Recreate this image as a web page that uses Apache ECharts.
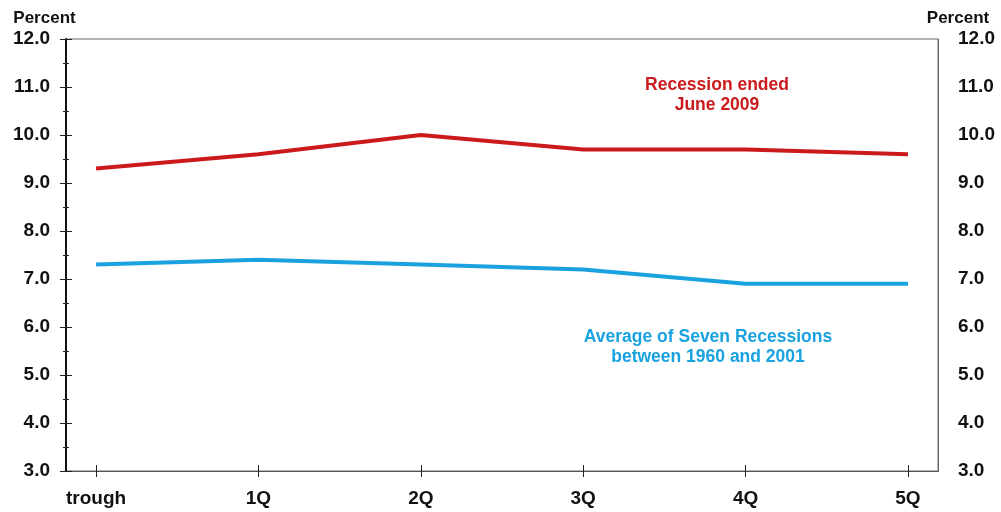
<!DOCTYPE html>
<html>
<head>
<meta charset="utf-8">
<script src="https://cdn.jsdelivr.net/npm/echarts@6/dist/echarts.min.js"></script>
<style>
  html, body { margin: 0; padding: 0; background: #fff; }
  #chart { width: 1001px; height: 512px; }
</style>
</head>
<body>
<div id="chart"></div>
<script>
// Unemployment rate after recession troughs
const categories = ['trough', '1Q', '2Q', '3Q', '4Q', '5Q'];
const recession2009 = [9.3, 9.6, 10.0, 9.7, 9.7, 9.6];
const averageSeven = [7.3, 7.4, 7.3, 7.2, 6.9, 6.9];
const yTicks = [3.0, 4.0, 5.0, 6.0, 7.0, 8.0, 9.0, 10.0, 11.0, 12.0];

const RED = '#cb1a1c';
const BLUE = '#19a2df';
const FONT = 'Liberation Sans, Arial, sans-serif';
const pad = 0.185; // half-gap beyond the first and last quarter
const xPos = categories.map((_, i) => i);

const toPairs = arr => arr.map((v, i) => [i, v]);

const xBase = {
  type: 'value',
  min: -pad,
  max: categories.length - 1 + pad,
  position: 'bottom',
  splitLine: { show: false },
  axisLine: { show: true, onZero: false, lineStyle: { color: '#555', width: 1 } }
};

const yBase = {
  type: 'value',
  min: yTicks[0],
  max: yTicks[yTicks.length - 1],
  interval: 1,
  splitLine: { show: false }
};

const labelStyle = { fontFamily: FONT, fontWeight: 'bold', fontSize: 19, color: '#111' };
const nameStyle = { fontFamily: FONT, fontWeight: 'bold', fontSize: 17, color: '#111', align: 'center' };

const chart = echarts.init(document.getElementById('chart'), null, { renderer: 'canvas' });
chart.setOption({
  animation: false,
  backgroundColor: '#fff',
  grid: {
    left: 66, right: 63, top: 39, bottom: 41,
    show: true, borderColor: '#666', borderWidth: 1
  },
  xAxis: [
    Object.assign({}, xBase, {
      axisTick: { show: true, length: 6, customValues: xPos, lineStyle: { color: '#222' } },
      axisLabel: Object.assign({
        customValues: xPos,
        formatter: v => categories[Math.round(v)],
        margin: 18
      }, labelStyle)
    }),
    Object.assign({}, xBase, {
      axisTick: { show: true, inside: true, length: 6, customValues: xPos, lineStyle: { color: '#222' } },
      axisLabel: { show: false }
    })
  ],
  yAxis: [
    Object.assign({}, yBase, {
      position: 'left',
      axisLine: { show: true, onZero: false, lineStyle: { color: '#111', width: 2 } },
      axisTick: { show: true, length: 6, lineStyle: { color: '#222' } },
      minorTick: { show: true, splitNumber: 2, length: 3, lineStyle: { color: '#222' } },
      axisLabel: Object.assign({ margin: 16, padding: [4, 0, 0, 0], formatter: v => v.toFixed(1) }, labelStyle),
      name: 'Percent', nameLocation: 'end', nameGap: 12,
      nameTextStyle: Object.assign({ padding: [0, 0, 0, -43] }, nameStyle)
    }),
    Object.assign({}, yBase, {
      position: 'left',
      axisLine: { show: false, onZero: false },
      axisTick: { show: true, inside: true, length: 6, lineStyle: { color: '#222' } },
      minorTick: { show: true, splitNumber: 2, length: 3, lineStyle: { color: '#222' } },
      axisLabel: { show: false }
    }),
    Object.assign({}, yBase, {
      position: 'right',
      axisLine: { show: true, onZero: false, lineStyle: { color: '#666', width: 1 } },
      axisTick: { show: false },
      axisLabel: Object.assign({ margin: 20, padding: [4, 0, 0, 0], formatter: v => v.toFixed(1) }, labelStyle),
      name: 'Percent', nameLocation: 'end', nameGap: 12,
      nameTextStyle: Object.assign({ padding: [0, 0, 0, 40] }, nameStyle)
    })
  ],
  series: [
    {
      name: 'Recession ended June 2009',
      type: 'line',
      data: toPairs(recession2009),
      showSymbol: false,
      lineStyle: { color: RED, width: 4 },
      z: 3
    },
    {
      name: 'Average of Seven Recessions between 1960 and 2001',
      type: 'line',
      data: toPairs(averageSeven),
      showSymbol: false,
      lineStyle: { color: BLUE, width: 4 },
      z: 3
    }
  ],
  graphic: [
    {
      type: 'text', x: 717, y: 75, z: 10,
      style: {
        text: 'Recession ended\nJune 2009', fill: RED,
        font: 'bold 17.5px ' + FONT, align: 'center', verticalAlign: 'top', lineHeight: 20
      }
    },
    {
      type: 'text', x: 708, y: 327, z: 10,
      style: {
        text: 'Average of Seven Recessions\nbetween 1960 and 2001', fill: BLUE,
        font: 'bold 17.5px ' + FONT, align: 'center', verticalAlign: 'top', lineHeight: 20
      }
    }
  ]
});
</script>
</body>
</html>
